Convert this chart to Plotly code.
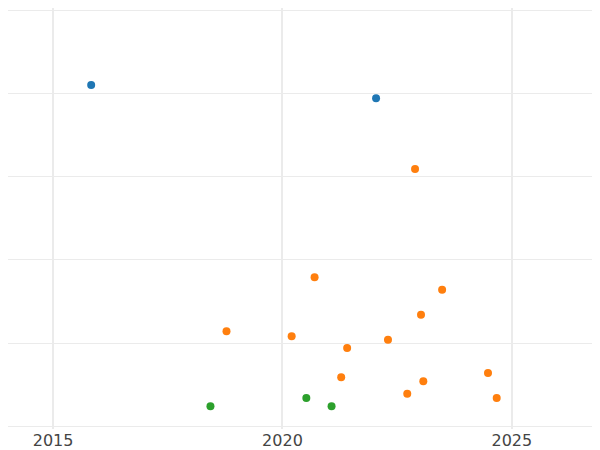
import plotly.graph_objects as go

blue_x = [2015.83, 2022.04]
blue_y = [4.10, 3.94]
orange_x = [2022.89, 2020.70, 2023.48, 2018.78, 2020.20, 2023.02, 2021.41, 2022.30, 2021.28, 2024.48, 2023.07, 2022.72, 2024.67]
orange_y = [3.09, 1.79, 1.64, 1.14, 1.08, 1.34, 0.94, 1.04, 0.59, 0.64, 0.54, 0.39, 0.34]
green_x = [2018.43, 2020.52, 2021.07]
green_y = [0.24, 0.34, 0.24]

fig = go.Figure()
for xs, ys, c in [(blue_x, blue_y, "#1f77b4"), (orange_x, orange_y, "#ff7f0e"), (green_x, green_y, "#2ca02c")]:
    fig.add_trace(go.Scatter(x=xs, y=ys, mode="markers", marker=dict(color=c, size=8), showlegend=False, cliponaxis=False))

fig.update_layout(
    width=600, height=450, template="plotly_white",
    margin=dict(l=0, r=0, t=0, b=29),
    paper_bgcolor="white", plot_bgcolor="white",
    font=dict(family="DejaVu Sans", size=16, color="#444"),
)
fig.update_xaxes(range=[2014.017, 2027.096], tickvals=[2015, 2020, 2025], gridcolor="#ebebeb", gridwidth=2, zeroline=False, showline=False)
fig.update_yaxes(range=[-0.033, 5.024], dtick=1, showticklabels=False, gridcolor="#ebebeb", zeroline=False, showline=False)
fig.write_html("out.html")
